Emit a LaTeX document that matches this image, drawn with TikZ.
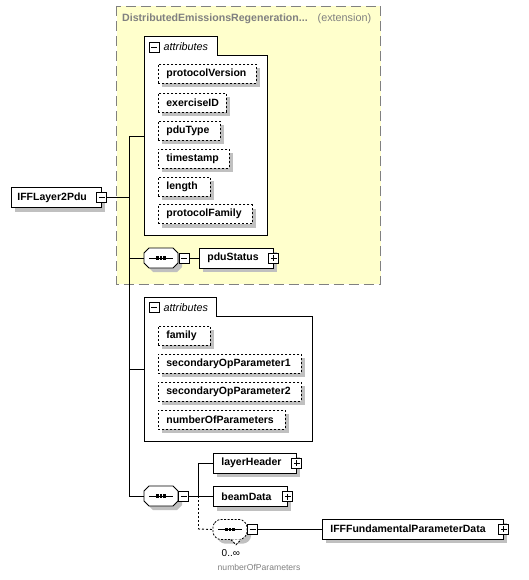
\documentclass[tikz,border=0pt]{standalone}
\usepackage{fontspec}
\setmainfont{Liberation Sans}
\usetikzlibrary{shadows}
\definecolor{yel}{HTML}{FFFFCC}
\definecolor{dgray}{HTML}{808080}
\definecolor{shgray}{HTML}{C0C0C0}
\newcommand{\seqdots}[1]{%
  \draw[line width=0.9pt] ([xshift=-12pt]#1.center) -- ([xshift=12pt]#1.center);
  \foreach \d in {-3.3,0,3.3} \fill ([xshift=\d pt]#1.center) ++(-1.25,-1.7) rectangle ++(2.5,3.4);
}
\newcommand{\octapath}{++(-17,-5) -- ++(5,-5) -- ++(24,0) -- ++(5,5) -- ++(0,10) -- ++(-5,5) -- ++(-24,0) -- ++(-5,-5) -- cycle}
\newcommand{\octa}[2]{%
  \fill[shgray,#1] ([shift={(4,4)}]#2.center) \octapath;
  \draw[octline,#1] (#2.center) \octapath;
}
\begin{document}
\begin{tikzpicture}[x=1pt,y=-1pt,
  shd/.style={drop shadow={shadow xshift=4pt,shadow yshift=-4pt,fill=shgray,draw=none,opacity=1}},
  box/.style={draw=black,fill=white,line width=0.8pt,shd,minimum height=20pt,inner xsep=8pt,inner ysep=0pt,anchor=west,align=left,font=\fontsize{10.5}{12}\selectfont\bfseries},
  attrbox/.style={box,dash pattern=on 2pt off 2pt,minimum height=19pt},
  btn/.style={draw=black,fill=white,line width=0.7pt,minimum size=10pt,inner sep=0pt},
  minusbtn/.style={btn,path picture={\draw[line width=0.7pt] ([xshift=2pt]path picture bounding box.west) -- ([xshift=-2pt]path picture bounding box.east);}},
  plusbtn/.style={btn,path picture={\draw[line width=0.7pt] ([xshift=2pt]path picture bounding box.west) -- ([xshift=-2pt]path picture bounding box.east) ([yshift=-2pt]path picture bounding box.north) -- ([yshift=2pt]path picture bounding box.south);}},
  seqnode/.style={rectangle,draw=none,minimum width=34pt,minimum height=20pt,inner sep=0pt},
  octline/.style={draw=black,fill=white,line width=0.8pt},
  conn/.style={line width=0.9pt,draw=black},
  lbl/.style={anchor=west,inner sep=0pt},
  container/.style={draw=black,fill=white,line width=0.8pt},
]
\useasboundingbox (0,0) rectangle (528,580);
% extension region
\fill[yel] (116.5,6) rectangle (380.5,284);
\draw[dgray,line width=0.9pt,dash pattern=on 10pt off 5pt] (116.5,6) rectangle (380.5,284);
\node[lbl,text=dgray,font=\fontsize{10.6}{12}\selectfont\bfseries] (title) at (122,18.5) {DistributedEmissionsRegeneration...};
\node[lbl,text=dgray,font=\fontsize{10.8}{12}\selectfont] (ext) at (317.5,18.5) {(extension)};

% trunk coordinates
\coordinate (tA) at (129,136);
\coordinate (tB) at (129,496);
\coordinate (a1) at (144,136);
\coordinate (a2) at (144,369);
\coordinate (sA) at (198,463);
\coordinate (sB) at (198,496);
\coordinate (sC) at (198,529);

% attributes container 1
\draw[container] (144,36) -- (217,36) -- (217,55) -- (267,55) -- (267,235) -- (144,235) -- cycle;
\node[minusbtn] (ab1) at (154,47) {};
\node[lbl,font=\fontsize{10.8}{12}\selectfont\itshape] (at1) at (163.5,47) {attributes};
\node[attrbox,text width=82pt] (pv) at (158,73.5) {protocolVersion};
\node[attrbox,text width=52pt] (ex) at (158,102.5) {exerciseID};
\node[attrbox,text width=46pt] (pt) at (158,130.5) {pduType};
\node[attrbox,text width=55pt] (ts) at (158,158.5) {timestamp};
\node[attrbox,text width=36pt] (ln) at (158,186.5) {length};
\node[attrbox,text width=78pt] (pf) at (158,214) {protocolFamily};

% attributes container 2
\draw[container] (144,297) -- (216,297) -- (216,316) -- (312,316) -- (312,441) -- (144,441) -- cycle;
\node[minusbtn] (ab2) at (154,307.5) {};
\node[lbl,font=\fontsize{10.8}{12}\selectfont\itshape] (at2) at (163.5,307.5) {attributes};
\node[attrbox,text width=36pt] (fam) at (158,335.5) {family};
\node[attrbox,text width=127pt] (sp1) at (158,363.5) {secondaryOpParameter1};
\node[attrbox,text width=127pt] (sp2) at (158,391.5) {secondaryOpParameter2};
\node[attrbox,text width=111pt] (nop) at (158,419.5) {numberOfParameters};

% root
\node[box,inner xsep=6pt,text width=78pt] (root) at (11,197.5) {IFFLayer2Pdu};
\node[minusbtn] (rootb) at (root.east) {};

% sequence 1
\node[seqnode] (seq1) at (161,258) {};
\octa{}{seq1}
\seqdots{seq1}
\node[minusbtn] (seq1b) at (184,258) {};
\node[box,text width=58pt] (pdus) at (199,258) {pduStatus};
\node[plusbtn] (pdusb) at (pdus.east) {};

% sequence 2
\node[seqnode] (seq2) at (161,496) {};
\octa{}{seq2}
\seqdots{seq2}
\node[minusbtn] (seq2b) at (183.5,496) {};
\node[box,text width=67pt] (lh) at (213,463) {layerHeader};
\node[plusbtn] (lhb) at (lh.east) {};
\node[box,text width=58pt] (bd) at (213,496.5) {beamData};
\node[plusbtn] (bdb) at (bd.east) {};

% repeated sequence
\node[seqnode] (dseq) at (230,529.5) {};
\octa{rounded corners=2.5pt,dash pattern=on 2pt off 1.5pt}{dseq}
\fill[white] ([xshift=1.5pt,yshift=0.4pt]dseq.south) -- ([xshift=6pt,yshift=-4.5pt]dseq.south) -- ([xshift=10.5pt,yshift=0.4pt]dseq.south) -- cycle;
\draw[line width=0.8pt,dash pattern=on 2pt off 1.5pt] ([xshift=1pt]dseq.south) -- ([xshift=6pt,yshift=-5pt]dseq.south) -- ([xshift=11pt]dseq.south);
\seqdots{dseq}
\node[minusbtn] (dseqb) at (252.5,529) {};
\node[box,text width=165pt] (iff) at (322,529) {IFFFundamentalParameterData};
\node[plusbtn] (iffb) at (iff.east) {};
\node[lbl,font=\fontsize{10}{12}\selectfont] (mult) at (221.5,553) {0..∞};
\node[lbl,text=dgray,font=\fontsize{8.6}{10}\selectfont] (npl) at (217.5,567) {numberOfParameters};

% connectors
\draw[conn] (rootb.east) -- (rootb.east -| tA);
\draw[conn] (tA) -- (tB);
\draw[conn] (tA) -- (a1);
\draw[conn] (seq1.west -| tA) -- (seq1.west);
\draw[conn] (seq1b.east) -- (pdus.west);
\draw[conn] (a2 -| tA) -- (a2);
\draw[conn] (tB) -- (seq2.west);
\draw[conn] (seq2b.east) -- (sB);
\draw[conn] (sA) -- (sB);
\draw[conn,dash pattern=on 2pt off 2pt] (sB) -- (sC);
\draw[conn] (sA) -- (lh.west);
\draw[conn] (sB) -- (sB -| bd.west);
\draw[conn,dash pattern=on 2pt off 2pt] (sC) -- (dseq.west);
\draw[conn] (dseqb.east) -- (iff.west);
\end{tikzpicture}
\end{document}
